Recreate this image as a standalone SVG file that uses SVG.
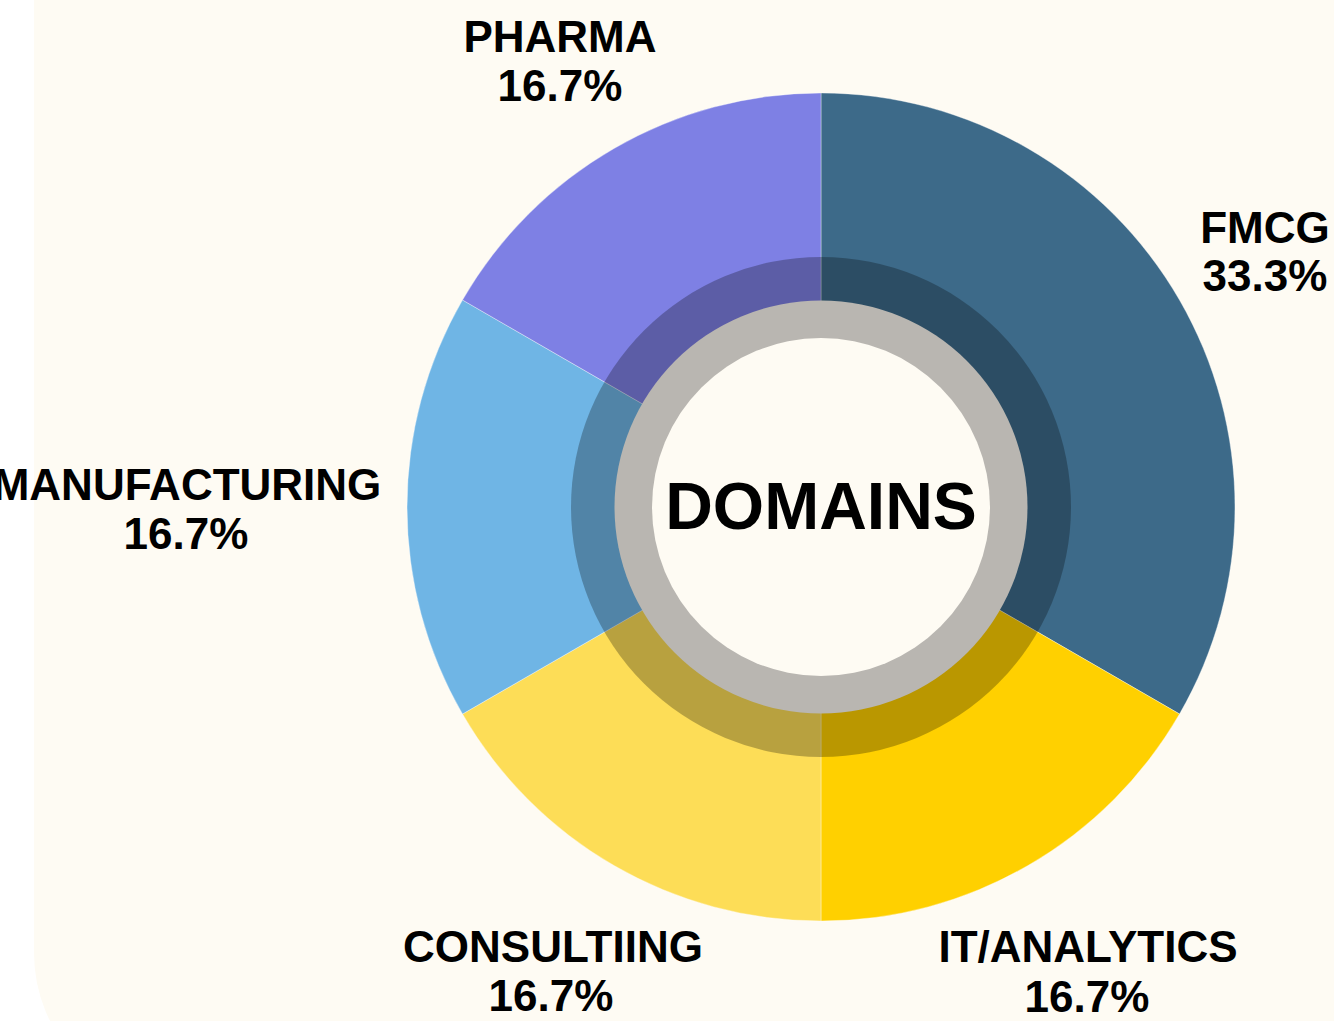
<svg xmlns="http://www.w3.org/2000/svg" width="1334" height="1021" viewBox="0 0 1334 1021">
<style>
.slice{stroke:#ffffff;stroke-opacity:0.35;stroke-width:1}
.lbl{font-family:"Liberation Sans",Arial,sans-serif;font-weight:bold;font-size:44px;fill:#000;text-anchor:middle}
.title{font-family:"Liberation Sans",Arial,sans-serif;font-weight:bold;font-size:66px;fill:#000;text-anchor:middle}
</style>
<rect x="0" y="0" width="1334" height="1021" fill="#ffffff"/>
<rect id="background" x="34" y="-200" width="1450" height="1305" rx="152" ry="152" fill="#fefbf3"/>
<g id="chart">
<g id="slice-fmcg"><path class="slice" d="M821,507 L821,93 A414,414 0 0 1 1179.5,714 Z" fill="#3d6a89"/></g>
<g id="slice-it"><path class="slice" d="M821,507 L1179.5,714 A414,414 0 0 1 821,921 Z" fill="#ffd000"/></g>
<g id="slice-consulting"><path class="slice" d="M821,507 L821,921 A414,414 0 0 1 462.5,714 Z" fill="#fddd57"/></g>
<g id="slice-manufacturing"><path class="slice" d="M821,507 L462.5,714 A414,414 0 0 1 462.5,300 Z" fill="#6fb5e5"/></g>
<g id="slice-pharma"><path class="slice" d="M821,507 L462.5,300 A414,414 0 0 1 821,93 Z" fill="#7e80e4"/></g>
<circle id="shade-ring" cx="821" cy="507" r="250" fill="#000" fill-opacity="0.27"/>
<circle id="grey-ring" cx="821" cy="507" r="206.5" fill="#b9b6b1"/>
<circle id="center" cx="821" cy="507" r="169" fill="#fefbf3"/>
</g>
<g id="connectors"></g>
<g id="node-domains"><text class="title" x="821" y="529">DOMAINS</text></g>
<g id="node-pharma"><text class="lbl" x="560" y="52">PHARMA</text><text class="lbl" x="560" y="101">16.7%</text></g>
<g id="node-fmcg"><text class="lbl" x="1265" y="243">FMCG</text><text class="lbl" x="1265" y="291">33.3%</text></g>
<g id="node-manufacturing"><text class="lbl" x="187" y="500">MANUFACTURING</text><text class="lbl" x="186" y="549">16.7%</text></g>
<g id="node-consulting"><text class="lbl" x="553" y="962">CONSULTIING</text><text class="lbl" x="551" y="1011">16.7%</text></g>
<g id="node-it"><text class="lbl" x="1088" y="962">IT/ANALYTICS</text><text class="lbl" x="1087" y="1012">16.7%</text></g>
</svg>
